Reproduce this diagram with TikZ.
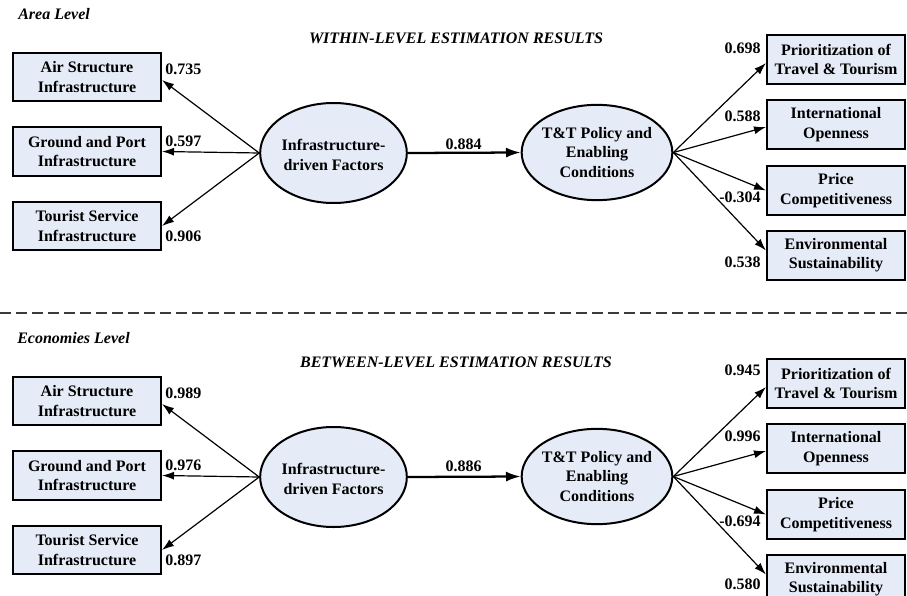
\documentclass[tikz,border=0pt]{standalone}
\usepackage{fontspec}
\setmainfont{Liberation Serif}
\usetikzlibrary{arrows.meta,calc,shapes.geometric}
\definecolor{boxfill}{RGB}{230,236,247}
\definecolor{sepgray}{RGB}{60,60,60}

\begin{document}
\begin{tikzpicture}[x=0.75pt,y=-0.75pt,
  every node/.style={font=\bfseries\fontsize{12}{14.5}\selectfont, inner sep=0pt},
  ind/.style={draw, line width=1.5pt, fill=boxfill, align=center,
              minimum width=111pt, minimum height=36.5pt},
  indr/.style={ind, minimum width=103.5pt},
  lat/.style={draw, ellipse, line width=1.5pt, fill=boxfill,
              minimum width=110pt, minimum height=75pt},
  lattwo/.style={lat, minimum width=113pt, minimum height=71.5pt},
  ltxt/.style={align=center},
  paneltitle/.style={font=\bfseries\itshape\fontsize{12}{14.5}\selectfont},
  load/.style={-{Latex[length=9pt,width=6pt]}, line width=0.9pt},
  regpath/.style={-{Latex[length=11pt,width=7.5pt]}, line width=1.7pt},
  coefl/.style={anchor=west},
  coefr/.style={anchor=east}
]
\useasboundingbox (0,0) rectangle (907,596);
\clip (0,0) rectangle (907,596);

% ---------- within level ----------
\node[paneltitle, anchor=west] (lvlA) at (18,14) {Area Level};
\node[paneltitle] (resA) at (456,38) {WITHIN-LEVEL ESTIMATION RESULTS};

\node[ind] (airA) at (87,77) {Air Structure\\Infrastructure};
\node[ind] (grdA) at (87,151.5) {Ground and Port\\Infrastructure};
\node[ind] (touA) at (87,226) {Tourist Service\\Infrastructure};

\node[lat] (infA) at (333.5,153) {};
\node[ltxt] (infAt) at ($(infA)+(0,2)$) {Infrastructure-\\driven Factors};
\node[lattwo] (polA) at (597,152.5) {};
\node[ltxt] (polAt) at (polA) {T\&T Policy and\\Enabling\\Conditions};

\node[indr] (prA) at (836,59.5) {Prioritization of\\Travel \& Tourism};
\node[indr] (opA) at (836,124.5) {International\\Openness};
\node[indr] (pcA) at (836,190.5) {Price\\Competitiveness};
\node[indr] (esA) at (836,255.5) {Environmental\\Sustainability};

\draw[load] (infA.west) -- ($(airA.east)+(0,3)$);
\draw[load] (infA.west) -- (grdA.east);
\draw[load] (infA.west) -- (touA.east);
\draw[regpath] (infA.east) -- (polA.west);
\draw[load] (polA.east) -- ($(prA.west)+(0,3.5)$);
\draw[load] (polA.east) -- ($(opA.west)+(0,2.5)$);
\draw[load] (polA.east) -- (pcA.west);
\draw[load] (polA.east) -- ($(esA.west)+(0,-5)$);

\node[coefl] (cA1) at (165,69) {0.735};
\node[coefl] (cA2) at (165,141) {0.597};
\node[coefl] (cA3) at (165,236) {0.906};
\node (cA4) at (463.5,144) {0.884};
\node[coefr] (cA5) at (761,48) {0.698};
\node[coefr] (cA6) at (761,116) {0.588};
\node[coefr] (cA7) at (761,197) {-0.304};
\node[coefr] (cA8) at (761,262) {0.538};

% ---------- separator ----------
\coordinate (sepL) at (0,313);
\coordinate (sepR) at (907,313);
\draw[sepgray, line width=1.2pt, dash pattern=on 8.5pt off 3.5pt] (sepL) -- (sepR);

% ---------- between level ----------
\node[paneltitle, anchor=west] (lvlB) at (17,338) {Economies Level};
\node[paneltitle] (resB) at (456,362) {BETWEEN-LEVEL ESTIMATION RESULTS};

\node[ind] (airB) at (87,401) {Air Structure\\Infrastructure};
\node[ind] (grdB) at (87,475.5) {Ground and Port\\Infrastructure};
\node[ind] (touB) at (87,550) {Tourist Service\\Infrastructure};

\node[lat] (infB) at (333.5,477) {};
\node[ltxt] (infBt) at ($(infB)+(0,2)$) {Infrastructure-\\driven Factors};
\node[lattwo] (polB) at (597,476.5) {};
\node[ltxt] (polBt) at (polB) {T\&T Policy and\\Enabling\\Conditions};

\node[indr] (prB) at (836,383.5) {Prioritization of\\Travel \& Tourism};
\node[indr] (opB) at (836,448.5) {International\\Openness};
\node[indr] (pcB) at (836,514.5) {Price\\Competitiveness};
\node[indr] (esB) at (836,579.5) {Environmental\\Sustainability};

\draw[load] (infB.west) -- ($(airB.east)+(0,3)$);
\draw[load] (infB.west) -- (grdB.east);
\draw[load] (infB.west) -- (touB.east);
\draw[regpath] (infB.east) -- (polB.west);
\draw[load] (polB.east) -- ($(prB.west)+(0,3.5)$);
\draw[load] (polB.east) -- ($(opB.west)+(0,2.5)$);
\draw[load] (polB.east) -- (pcB.west);
\draw[load] (polB.east) -- ($(esB.west)+(0,-5)$);

\node[coefl] (cB1) at (165,393) {0.989};
\node[coefl] (cB2) at (165,465) {0.976};
\node[coefl] (cB3) at (165,560) {0.897};
\node (cB4) at (463.5,466) {0.886};
\node[coefr] (cB5) at (761,370) {0.945};
\node[coefr] (cB6) at (761,436) {0.996};
\node[coefr] (cB7) at (761,521) {-0.694};
\node[coefr] (cB8) at (761,584) {0.580};
\end{tikzpicture}
\end{document}
